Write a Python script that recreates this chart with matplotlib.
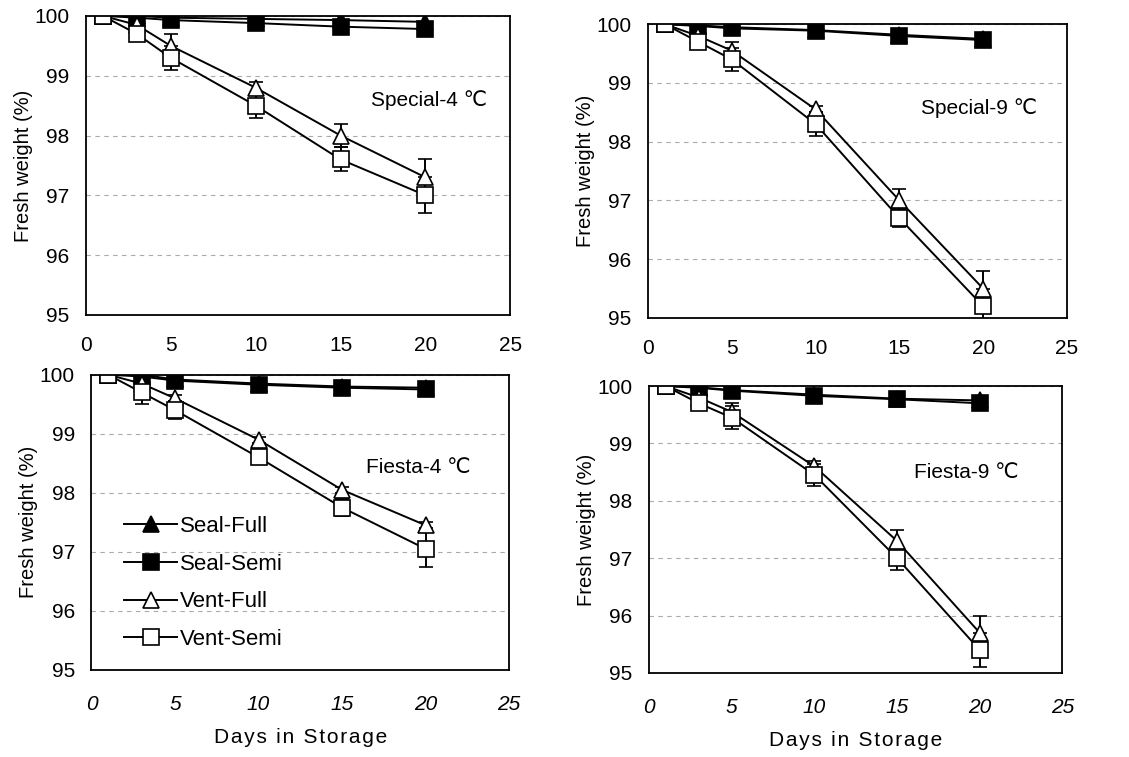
import matplotlib.pyplot as plt
from matplotlib.lines import Line2D

plt.rcParams['font.family'] = ['Liberation Sans', 'DejaVu Sans']

DAYS = [1, 3, 5, 10, 15, 20]
SERIES = ["Seal-Full", "Seal-Semi", "Vent-Full", "Vent-Semi"]

# Special-4
sp4_seal_full = [100, 100, 99.97, 99.95, 99.93, 99.90]
sp4_seal_semi = [100, 99.97, 99.93, 99.88, 99.82, 99.78]
sp4_vent_full = [100, 99.85, 99.50, 98.80, 98.00, 97.30]
sp4_vent_semi = [100, 99.70, 99.30, 98.50, 97.60, 97.00]
sp4_vent_full_err = [0, 0, 0.20, 0.10, 0.20, 0.30]
sp4_vent_semi_err = [0, 0, 0.20, 0.20, 0.20, 0.30]

# Special-9
sp9_seal_full = [100, 99.98, 99.95, 99.90, 99.82, 99.75]
sp9_seal_semi = [100, 99.97, 99.93, 99.89, 99.80, 99.73]
sp9_vent_full = [100, 99.80, 99.55, 98.55, 97.00, 95.50]
sp9_vent_semi = [100, 99.70, 99.40, 98.30, 96.70, 95.20]
sp9_vent_full_err = [0, 0, 0.15, 0.05, 0.20, 0.30]
sp9_vent_semi_err = [0, 0, 0.20, 0.20, 0.15, 0.30]

# Fiesta-4
fi4_seal_full = [100, 100, 99.92, 99.85, 99.80, 99.78]
fi4_seal_semi = [100, 99.97, 99.90, 99.83, 99.78, 99.75]
fi4_vent_full = [100, 99.85, 99.60, 98.90, 98.05, 97.45]
fi4_vent_semi = [100, 99.70, 99.40, 98.60, 97.75, 97.05]
fi4_vent_full_err = [0, 0, 0.05, 0.05, 0.05, 0.05]
fi4_vent_semi_err = [0, 0.20, 0.15, 0.10, 0.15, 0.30]

# Fiesta-9
fi9_seal_full = [100, 99.98, 99.93, 99.85, 99.78, 99.75]
fi9_seal_semi = [100, 99.97, 99.92, 99.83, 99.77, 99.70]
fi9_vent_full = [100, 99.80, 99.55, 98.60, 97.30, 95.70]
fi9_vent_semi = [100, 99.70, 99.45, 98.45, 97.00, 95.40]
fi9_vent_full_err = [0, 0, 0.15, 0.10, 0.20, 0.30]
fi9_vent_semi_err = [0, 0, 0.20, 0.20, 0.20, 0.30]

PANELS = [
    ("Special-4 ℃", [0.076, 0.584, 0.376, 0.395], (0.946, 0.72), False,
     [sp4_seal_full, sp4_seal_semi, sp4_vent_full, sp4_vent_semi],
     [None, None, sp4_vent_full_err, sp4_vent_semi_err]),
    ("Special-9 ℃", [0.574, 0.580, 0.371, 0.388], (0.93, 0.714), False,
     [sp9_seal_full, sp9_seal_semi, sp9_vent_full, sp9_vent_semi],
     [None, None, sp9_vent_full_err, sp9_vent_semi_err]),
    ("Fiesta-4 ℃", [0.081, 0.115, 0.370, 0.390], (0.907, 0.685), True,
     [fi4_seal_full, fi4_seal_semi, fi4_vent_full, fi4_vent_semi],
     [None, None, fi4_vent_full_err, fi4_vent_semi_err]),
    ("Fiesta-9 ℃", [0.575, 0.111, 0.366, 0.379], (0.893, 0.70), True,
     [fi9_seal_full, fi9_seal_semi, fi9_vent_full, fi9_vent_semi],
     [None, None, fi9_vent_full_err, fi9_vent_semi_err]),
]

STYLES = [("^", "black"), ("s", "black"), ("^", "white"), ("s", "white")]

fig = plt.figure(figsize=(11.29, 7.57), dpi=100)

for i, (title, rect, tpos, bottom, values, errors) in enumerate(PANELS):
    ax = fig.add_axes(rect)
    for name, vals, err, (marker, face) in zip(SERIES, values, errors, STYLES):
        ax.errorbar(DAYS, vals, yerr=err, color="black", lw=1.4, marker=marker,
                    markersize=11, markerfacecolor=face, markeredgecolor="black",
                    markeredgewidth=1.2, capsize=5, elinewidth=1.4, capthick=1.4)
    ax.set_xlim(0, 25)
    ax.set_ylim(95, 100)
    ax.set_xticks([0, 5, 10, 15, 20, 25])
    ax.set_yticks([95, 96, 97, 98, 99, 100])
    ax.yaxis.grid(True, ls=(0, (4, 4)), color="#aaaaaa", lw=0.8)
    ax.tick_params(length=0, labelsize=15)
    ax.tick_params(axis="x", pad=18 if bottom else 15)
    ax.tick_params(axis="y", pad=12)
    for lab in ax.get_xticklabels():
        lab.set_fontstyle("italic" if bottom else "normal")
    for sp in ax.spines.values():
        sp.set_linewidth(1.3)
    ax.set_ylabel("Fresh weight (%)", fontsize=14.5, labelpad=1)
    ax.text(tpos[0], tpos[1], title, transform=ax.transAxes, ha="right",
            va="center", fontsize=15)
    if bottom:
        ax.set_xlabel("\u200a".join("Days in Storage"), fontsize=15, labelpad=10)
    if i == 2:
        handles = [Line2D([], [], color="black", lw=1.4, marker=m, markersize=12,
                          markerfacecolor=f, markeredgecolor="black",
                          markeredgewidth=1.2)
                   for m, f in STYLES]
        ax.legend(handles, SERIES, loc="lower left", bbox_to_anchor=(0.03, 0.0),
                  frameon=False, fontsize=16, handlelength=2.4,
                  handletextpad=0.1, labelspacing=0.75)

fig.savefig("out.png", dpi=100)
